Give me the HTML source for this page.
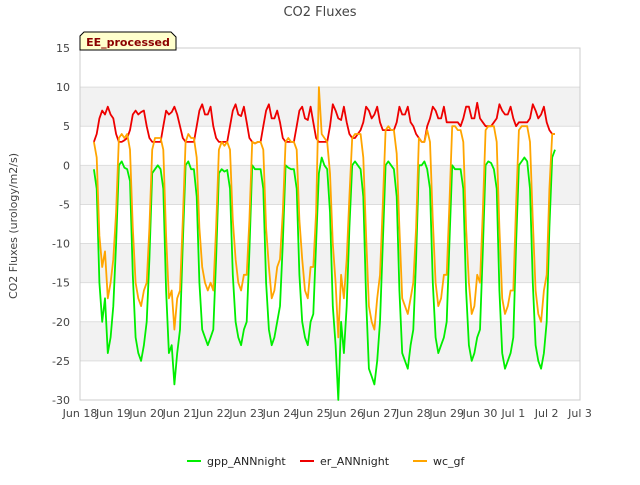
<!DOCTYPE html>
<html><head><meta charset="utf-8"><style>
body{margin:0;background:#fff;font-family:"Liberation Sans","DejaVu Sans",sans-serif}
svg text{font-family:"DejaVu Sans","Liberation Sans",sans-serif}
</style></head><body>
<svg id="chart" width="640" height="480" viewBox="0 0 640 480" xmlns="http://www.w3.org/2000/svg">
<text x="320" y="16" text-anchor="middle" font-size="13" fill="#444">CO2 Fluxes</text>
<text transform="translate(17,226) rotate(-90)" text-anchor="middle" font-size="11" fill="#444">CO2 Fluxes (urology/m2/s)</text>
<g id="bands"></g>
<g id="axes"></g>
<g id="series"></g>
<g>
<path d="M84,32 L171,32 L176,37 L176,50 L80,50 L80,36 Z" fill="#ffffcc" stroke="#000" stroke-width="1"/>
<text x="128" y="46" text-anchor="middle" font-size="11" font-weight="bold" fill="#8b0000">EE_processed</text>
</g>
<g id="legend"></g>
</svg>
<script>
const yTicks=[15,10,5,0,-5,-10,-15,-20,-25,-30];
const xTickLabels=["Jun 18","Jun 19","Jun 20","Jun 21","Jun 22","Jun 23","Jun 24","Jun 25","Jun 26","Jun 27","Jun 28","Jun 29","Jun 30","Jul 1","Jul 2","Jul 3"];
const seriesNames=["gpp_ANNnight","er_ANNnight","wc_gf"];
const seriesColors=["#00ee00","#ee0000","#ffa500"];
const tStart=0.4167, tStep=1/12;
const gpp=[
-0.5,-3,-15,-20,-17,-24,-22,-18,-10,0,0.5,-0.3,
-0.5,-2,-14,-22,-24,-25,-23,-20,-12,-1,-0.5,0,
-0.5,-3,-16,-24,-23,-28,-24,-21,-10,0,0.5,-0.5,
-0.5,-4,-15,-21,-22,-23,-22,-21,-12,-1,-0.5,-0.8,
-0.6,-3,-14,-20,-22,-23,-21,-20,-11,0,-0.5,-0.5,
-0.5,-3,-15,-21,-23,-22,-20,-18,-10,0,-0.3,-0.5,
-0.5,-3,-14,-20,-22,-23,-20,-19,-10,-1,1,0,
-0.5,-6,-18,-23,-30,-20,-24,-18,-8,0,0.5,0,
-0.5,-4,-17,-26,-27,-28,-25,-20,-10,0,0.5,0,
-0.5,-4,-16,-24,-25,-26,-23,-21,-12,0,0,0.5,
-0.5,-3,-15,-22,-24,-23,-22,-20,-10,0,-0.5,-0.5,
-0.5,-3,-16,-23,-25,-24,-22,-21,-11,0,0.5,0.3,
-0.5,-3,-16,-24,-26,-25,-24,-22,-10,0,0.5,1,
0.5,-3,-15,-23,-25,-26,-24,-20,-8,1,2];
const er=[
3,4,6,7,6.5,7.5,6.5,6,4,3,3,3.2,
3.5,4.5,6.5,7,6.5,6.8,7,5,3.5,3,3,3,
3,5,7,6.5,6.8,7.5,6.5,5,3.5,3,3,3,
3,5,7,7.8,6.5,6.5,7.5,5,3.5,3,3,3,
3,5,7,7.8,6.5,6.3,7.5,5.5,3.5,3,2.8,3,
3,5,7,7.8,6,6,7,5.5,3.5,3,3,3,
3,5,7,7.5,6,5.8,7.5,5.5,3.5,3,3,3,
3,5,7.8,7,6,5.8,7.5,5.5,4,3.5,3.5,4,
4.5,5.5,7.5,7,6,6.5,7.5,5.5,4.5,4.5,4.5,4.5,
4.5,5.5,7.5,6.5,6.5,7.5,5.5,5,4,3.5,3,3,
5,6,7.5,7,6,6,7.5,5.5,5.5,5.5,5.5,5.5,
5,6,7.5,7.5,6,6,8,6,5.5,5,5,5,
5.5,6,7.8,7,6.5,6.5,7.5,6,5,5.5,5.5,5.5,
5.5,6,7.8,7,6,6.5,7.5,5.5,4.5,4,4];
const wc=[
3,1,-9,-13,-11,-17,-15,-12,-6,3.5,4,3.5,
4,2,-8,-15,-17,-18,-16,-15,-8,2,3.5,3.5,
3.5,2,-9,-17,-16,-21,-17,-16,-7,3,4,3.5,
3.5,1,-8,-13,-15,-16,-15,-16,-8,2,3,2.5,
3,2,-7,-12,-15,-16,-14,-14,-7,3,2.8,3,
3,2,-8,-13,-17,-16,-13,-12,-6,3,3.5,3,
3,2,-7,-12,-16,-17,-13,-13,-6,10,4,3.5,
3,-1,-10,-15,-22,-14,-17,-12,-4,3.5,4,4,
4,1,-9,-18,-20,-21,-17,-14,-5,4.5,5,4.5,
4.5,1.5,-8,-17,-18,-19,-17,-15,-8,3.5,3,3,
4.5,3,-7,-15,-18,-17,-14,-14,-5,5,5,4.5,
4.5,3,-8,-15,-19,-18,-14,-15,-6,4.5,5,5,
5,3,-8,-17,-19,-18,-16,-16,-5,4.5,5,5,
5,3,-7,-16,-19,-20,-16,-14,-3,4,4];
const X0=80,X1=580,Y0=48,Y1=400,yMax=15,yMin=-30,dMax=15;
const xs=t=>X0+(t/dMax)*(X1-X0);
const ys=v=>Y0+(yMax-v)/(yMax-yMin)*(Y1-Y0);
const NS="http://www.w3.org/2000/svg";
function mk(tag,attrs,parent){const e=document.createElementNS(NS,tag);for(const k in attrs)e.setAttribute(k,attrs[k]);parent.appendChild(e);return e;}
const bands=document.getElementById('bands'),axes=document.getElementById('axes'),ser=document.getElementById('series'),leg=document.getElementById('legend');
for(let i=0;i<yTicks.length-1;i++){
  const top=ys(yTicks[i]),bot=ys(yTicks[i+1]);
  const r=mk('rect',{x:X0,y:top,width:X1-X0,height:bot-top,fill:(i%2==1)?'#f2f2f2':'#ffffff'},bands);
  
  
}
yTicks.forEach(v=>{
  const y=ys(v);
  const g=mk('line',{x1:X0,x2:X1,y1:y,y2:y,stroke:'#dddddd','stroke-width':1},axes);
  
  
  const t=mk('text',{x:X0-10,y:y+4,'text-anchor':'end','font-size':11,fill:'#444'},axes);
  t.textContent=v;
  
  
});
const fr=mk('rect',{x:X0,y:Y0,width:X1-X0,height:Y1-Y0,fill:'none',stroke:'#cccccc'},axes);


xTickLabels.forEach((lab,i)=>{
  const t=mk('text',{x:xs(i),y:Y1+17,'text-anchor':'middle','font-size':11,fill:'#444'},axes);
  t.textContent=lab;
  
  
});
[gpp,er,wc].forEach((arr,si)=>{
  const pts=arr.map((v,i)=>xs(tStart+i*tStep).toFixed(1)+','+ys(v).toFixed(1)).join(' ');
  const p=mk('polyline',{points:pts,fill:'none',stroke:seriesColors[si],'stroke-width':1.8,'stroke-linejoin':'round'},ser);
  
  
});
const lx=[187,300,413];
seriesNames.forEach((n,i)=>{
  const g=mk('g',{},leg);
  
  
  mk('line',{x1:lx[i],x2:lx[i]+14,y1:461,y2:461,stroke:seriesColors[i],'stroke-width':2},g);
  const t=mk('text',{x:lx[i]+20,y:465,'font-size':11,fill:'#222'},g);
  t.textContent=n;
});
</script>
</body></html>
